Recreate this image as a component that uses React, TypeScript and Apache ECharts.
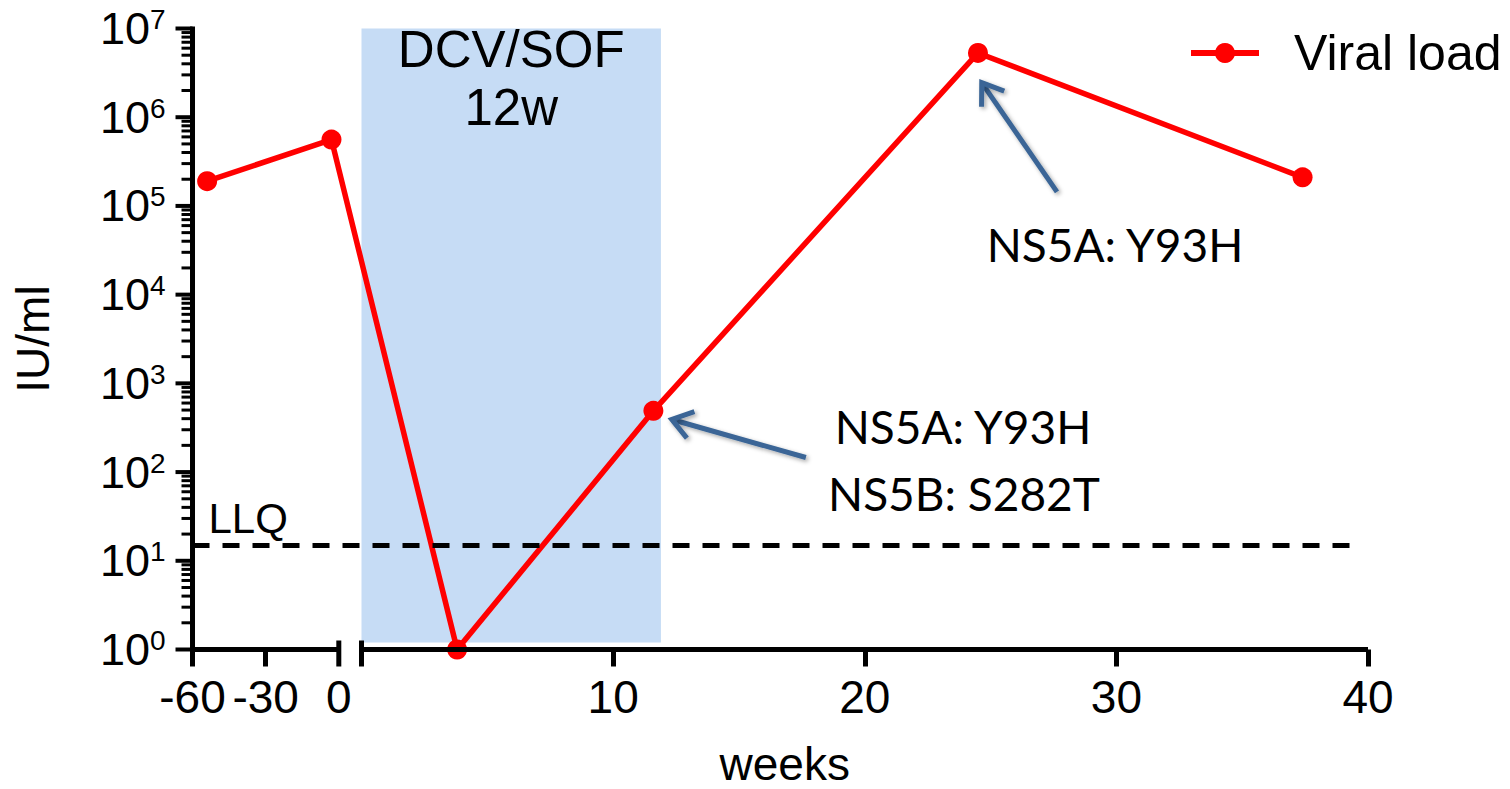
import React, { useEffect, useRef } from "react";
import * as echarts from "echarts";

// ---- data (weeks, IU/ml) ----
const preWeeks = [-54, -3];
const preLoad = [1.9e5, 5.6e5];
const postWeeks = [3.8, 11.6, 24.5, 37.4];
const postLoad = [1, 490, 5.3e6, 2.1e5];
const preTickWeeks = [-60, -30, 0];
const postTickWeeks = [10, 20, 30, 40];
const yDecadeExponents = [0, 1, 2, 3, 4, 5, 6, 7];
const minorMultipliers = [2, 3, 4, 5, 6, 7, 8, 9];
const llqValue = 15;
const treatmentWeeks = [0, 11.9];
const treatmentLabel = "DCV/SOF\n12w";
const seriesName = "Viral load";
// arrows: [fromWeek, fromLoad] -> [toWeek, toLoad]
const arrowStarts = [
  [17.66, 146],
  [27.64, 1.44e5],
];
const arrowEnds = [
  [12.33, 392],
  [24.65, 2.45e6],
];
const annotationTexts = ["NS5A: Y93H", "NS5A: Y93H", "NS5B: S282T"];

// ---- broken x axis: pre-treatment weeks are compressed to the left of the break ----
const LEFT_ZERO = -0.902;
const LEFT_SCALE = 0.0969;
const preAxis = (w: number) => LEFT_ZERO + w * LEFT_SCALE;
// room (in axis units) left of the drawn y axis, for its outward ticks
const Y_TICK_ROOM = 0.676;

const ARIAL = "'Liberation Sans', Arial, sans-serif";
const CALIBRI = "Lato, 'Noto Sans', sans-serif";

export default function App() {
  const ref = useRef<HTMLDivElement>(null);
  useEffect(() => {
    if (!ref.current) return;
    const chart = echarts.init(ref.current, undefined, { renderer: "svg" });

    const lineData = [
      ...preWeeks.map((w, i) => [preAxis(w), preLoad[i]]),
      ...postWeeks.map((w, i) => [w, postLoad[i]]),
    ];
    const labelValues = [...preTickWeeks.map(preAxis), ...postTickWeeks];
    const labelTexts = [...preTickWeeks, ...postTickWeeks].map(String);
    const tickValues = [preAxis(-60), preAxis(-30), ...postTickWeeks];
    const xAxisStart = preAxis(preTickWeeks[0]);
    const xMax = postTickWeeks[postTickWeeks.length - 1];
    const yMin = Math.pow(10, yDecadeExponents[0]);
    const yMax = Math.pow(10, yDecadeExponents[yDecadeExponents.length - 1]);

    // y-axis ticks: [x, value, isMajor]
    const yTickData: number[][] = yDecadeExponents.map((e) => [xAxisStart, Math.pow(10, e), 1]);
    yDecadeExponents.slice(0, -1).forEach((e) =>
      minorMultipliers.forEach((m) => yTickData.push([xAxisStart, m * Math.pow(10, e), 0]))
    );

    const axisSegments = [
      [xAxisStart, preAxis(0), 1],
      [0, xMax, 1],
    ];
    const arrowData = arrowStarts.map((s, i) => [s[0], s[1], arrowEnds[i][0], arrowEnds[i][1]]);

    const option: any = {
      animation: false,
      grid: { left: 175.5, right: 142, top: 28.5, bottom: 139.5, containLabel: false, outerBoundsMode: "none" },
      legend: {
        data: [seriesName],
        left: 1188,
        top: 28,
        padding: 0,
        itemWidth: 68,
        itemHeight: 25,
        lineStyle: { width: 6, color: "#ff0000" },
        itemStyle: { color: "#ff0000" },
        textStyle: { fontSize: 50, fontFamily: ARIAL, color: "#000", padding: [0, 0, 0, 30] },
      },
      xAxis: {
        type: "value",
        min: xAxisStart - Y_TICK_ROOM,
        max: xMax,
        name: "weeks",
        nameLocation: "middle",
        nameGap: 91,
        nameTextStyle: { fontSize: 46, lineHeight: 46, fontFamily: ARIAL, color: "#000", padding: [0, 0, 0, 26] },
        axisLine: { show: false, onZero: false },
        splitLine: { show: false },
        axisTick: {
          show: true,
          customValues: tickValues,
          length: 17,
          lineStyle: { color: "#000", width: 5 },
        },
        axisLabel: {
          customValues: labelValues,
          formatter: (v: number) => {
            const i = labelValues.findIndex((u) => Math.abs(u - v) < 1e-6);
            return i >= 0 ? labelTexts[i] : "";
          },
          fontSize: 46,
          fontFamily: ARIAL,
          color: "#000",
          margin: 24,
        },
      },
      yAxis: {
        type: "log",
        logBase: 10,
        min: yMin,
        max: yMax,
        splitNumber: 7,
        name: "IU/ml",
        nameLocation: "middle",
        nameRotate: 90,
        nameGap: 120,
        nameTextStyle: { fontSize: 46, fontFamily: ARIAL, color: "#000" },
        axisLine: { show: false, onZero: false },
        axisTick: { show: false },
        splitLine: { show: false },
        axisLabel: {
          margin: 10,
          formatter: (v: number) => `{b|10}{s|${Math.round(Math.log10(v))}}`,
          rich: {
            b: { fontSize: 45, fontFamily: ARIAL, color: "#000", lineHeight: 46 },
            s: { fontSize: 28, fontFamily: ARIAL, color: "#000", lineHeight: 30, verticalAlign: "top" },
          },
        },
      },
      series: [
        {
          type: "custom",
          name: "x-axis-line",
          silent: true,
          z: 5,
          clip: false,
          encode: { x: [0, 1], y: 2 },
          data: axisSegments,
          renderItem: (params: any, api: any) => {
            const p0 = api.coord([api.value(0), yMin]);
            const p1 = api.coord([api.value(1), yMin]);
            const bx = params.dataIndex === 0 ? p1[0] : p0[0];
            return {
              type: "group",
              children: [
                { type: "rect", shape: { x: p0[0], y: p0[1] - 2.5, width: p1[0] - p0[0], height: 5 }, style: { fill: "#000" } },
                { type: "rect", shape: { x: bx - 2.5, y: p0[1] - 9, width: 5, height: 26 }, style: { fill: "#000" } },
              ],
            };
          },
        },
        {
          type: "custom",
          name: "y-axis-line",
          silent: true,
          z: 5,
          clip: false,
          encode: { x: 0, y: [1, 2] },
          data: [[xAxisStart, yMin, yMax]],
          renderItem: (params: any, api: any) => {
            const b = api.coord([api.value(0), api.value(1)]);
            const t = api.coord([api.value(0), api.value(2)]);
            return {
              type: "rect",
              shape: { x: b[0] - 2.5, y: t[1] - 2, width: 5, height: b[1] - t[1] + 4.5 },
              style: { fill: "#000" },
            };
          },
        },
        {
          type: "custom",
          name: "y-axis-ticks",
          silent: true,
          z: 6,
          clip: false,
          encode: { x: 0, y: 1 },
          data: yTickData,
          renderItem: (params: any, api: any) => {
            const p = api.coord([api.value(0), api.value(1)]);
            const major = api.value(2) === 1;
            const len = major ? 17 : 11;
            const h = major ? 4 : 3;
            return {
              type: "rect",
              shape: { x: p[0] - len, y: p[1] - h / 2, width: len, height: h },
              style: { fill: "#000" },
            };
          },
        },
        {
          type: "line",
          name: seriesName,
          z: 3,
          clip: false,
          data: lineData,
          color: "#ff0000",
          symbol: "circle",
          symbolSize: 20,
          lineStyle: { width: 5.5, color: "#ff0000" },
          itemStyle: { color: "#ff0000" },
          markLine: {
            silent: true,
            symbol: "none",
            data: [[{ coord: [xAxisStart, llqValue] }, { coord: [xMax - 0.3, llqValue] }]],
            lineStyle: { color: "#000", width: 5, type: [17, 13] },
            label: {
              show: true,
              formatter: "LLQ",
              position: "insideStartTop",
              color: "#000",
              fontSize: 42,
              fontFamily: ARIAL,
              distance: [16, 6],
            },
          },
          markArea: {
            silent: true,
            itemStyle: { color: "#c6dcf5" },
            label: {
              show: true,
              position: "insideTop",
              formatter: treatmentLabel,
              fontSize: 51,
              lineHeight: 58,
              fontFamily: ARIAL,
              color: "#000",
              offset: [0, -13],
            },
            data: [[{ coord: [treatmentWeeks[0], 1.2] }, { coord: [treatmentWeeks[1], yMax] }]],
          },
        },
        {
          type: "custom",
          name: "arrows",
          silent: true,
          z: 4,
          encode: { x: [0, 2], y: [1, 3] },
          data: arrowData,
          renderItem: (params: any, api: any) => {
            const s = api.coord([api.value(0), api.value(1)]);
            const e = api.coord([api.value(2), api.value(3)]);
            const dx = s[0] - e[0];
            const dy = s[1] - e[1];
            const len = Math.sqrt(dx * dx + dy * dy);
            const ux = dx / len;
            const uy = dy / len;
            const a = (35 * Math.PI) / 180;
            const h = 24;
            const rot = (ang: number) => [
              e[0] + h * (ux * Math.cos(ang) - uy * Math.sin(ang)),
              e[1] + h * (ux * Math.sin(ang) + uy * Math.cos(ang)),
            ];
            const style = {
              stroke: "#3a6596",
              lineWidth: 5,
              fill: null,
              shadowColor: "rgba(0,0,0,0.35)",
              shadowBlur: 4,
              shadowOffsetX: 2,
              shadowOffsetY: 2,
            };
            return {
              type: "group",
              children: [
                { type: "line", shape: { x1: s[0], y1: s[1], x2: e[0] + ux * 2, y2: e[1] + uy * 2 }, style },
                { type: "polyline", shape: { points: [rot(a), e, rot(-a)] }, style: { ...style, lineJoin: "miter" } },
              ],
            };
          },
        },
      ],
      graphic: [
        { type: "text", x: 1115, y: 244, style: { text: annotationTexts[0], fontSize: 46, fontFamily: CALIBRI, fill: "#000", align: "center", verticalAlign: "middle" } },
        { type: "text", x: 963, y: 426, style: { text: annotationTexts[1], fontSize: 46, fontFamily: CALIBRI, fill: "#000", align: "center", verticalAlign: "middle" } },
        { type: "text", x: 964, y: 493, style: { text: annotationTexts[2], fontSize: 46, fontFamily: CALIBRI, fill: "#000", align: "center", verticalAlign: "middle" } },
      ],
    };
    chart.setOption(option);
    return () => chart.dispose();
  }, []);
  return (
    <div
      ref={ref}
      style={{ position: "fixed", left: 0, top: 0, width: 1510, height: 789, background: "#fff" }}
    />
  );
}
